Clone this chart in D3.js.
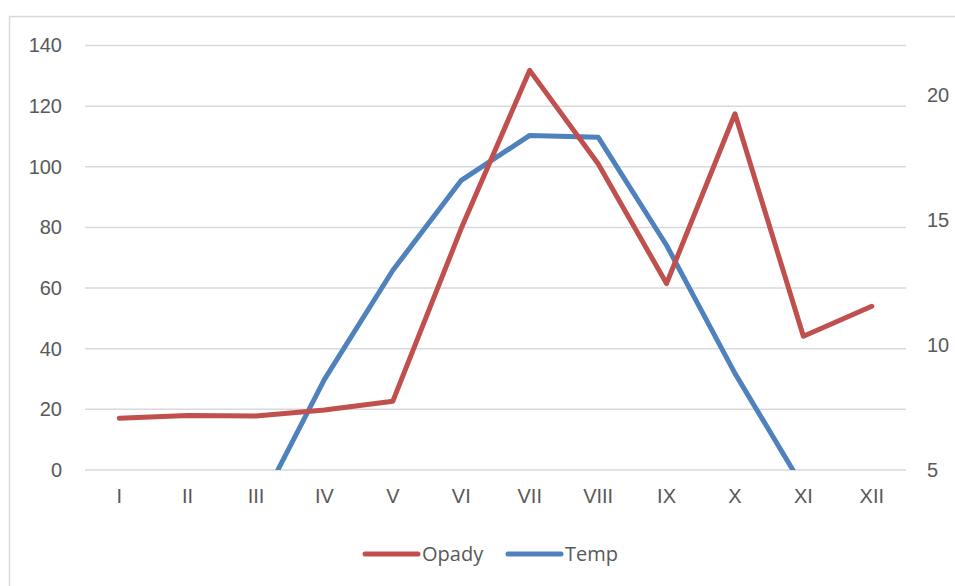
<!DOCTYPE html>
<html>
<head>
<meta charset="utf-8">
<script src="https://cdn.jsdelivr.net/npm/d3@7"></script>
<style>
  html, body { margin: 0; padding: 0; background: #fff; }
  svg { display: block; font-family: "Open Sans", "Liberation Sans", sans-serif; }
</style>
</head>
<body>
<div id="chart"></div>
<script>
var months = ['I', 'II', 'III', 'IV', 'V', 'VI', 'VII', 'VIII', 'IX', 'X', 'XI', 'XII'];
var opady = [17.1, 18.0, 17.8, 19.8, 22.7, 79.7, 131.8, 101, 61.5, 117.5, 44.1, 54];
var temp = [null, null, 3.3, 8.63, 13.0, 16.6, 18.4, 18.33, 14.0, 8.87, 4.3, null];
var leftTicks = [0, 20, 40, 60, 80, 100, 120, 140];
var rightTicks = [5, 10, 15, 20];

var W = 955, H = 586;
var plot = { left: 85, right: 906, top: 45.5, bottom: 470 };
var red = '#C0504D', blue = '#4F81BD', grid = '#D9D9D9', txt = '#595959';

var svg = d3.select('#chart').append('svg').attr('width', W).attr('height', H);

// chart frame
svg.append('rect')
  .attr('x', 9.5).attr('y', 16.5).attr('width', 980).attr('height', 620)
  .attr('fill', 'none').attr('stroke', grid).attr('stroke-width', 1.5);

var x = d3.scaleBand().domain(months).range([plot.left, plot.right]);
var yL = d3.scaleLinear().domain([0, 140]).range([plot.bottom, plot.top]);
var yR = d3.scaleLinear().domain([5, 22]).range([plot.bottom, plot.top]);

// gridlines
svg.append('g').selectAll('line').data(leftTicks).join('line')
  .attr('x1', plot.left).attr('x2', plot.right)
  .attr('y1', function (d) { return yL(d); }).attr('y2', function (d) { return yL(d); })
  .attr('stroke', grid).attr('stroke-width', 1.5);

// left axis
var axL = svg.append('g').attr('transform', 'translate(' + (plot.left - 6) + ',0)')
  .call(d3.axisLeft(yL).tickValues(leftTicks).tickSize(0).tickPadding(17));
axL.select('.domain').remove();
axL.selectAll('text').attr('fill', txt).attr('font-size', 20);

// right axis
var axR = svg.append('g').attr('transform', 'translate(' + plot.right + ',0)')
  .call(d3.axisRight(yR).tickValues(rightTicks).tickSize(0).tickPadding(21));
axR.select('.domain').remove();
axR.selectAll('text').attr('fill', txt).attr('font-size', 20);

// category axis
var axB = svg.append('g').attr('transform', 'translate(0,' + plot.bottom + ')')
  .call(d3.axisBottom(x).tickSize(0).tickPadding(19));
axB.select('.domain').remove();
axB.selectAll('text').attr('fill', txt).attr('font-size', 20);

svg.append('defs').append('clipPath').attr('id', 'plotclip')
  .append('rect').attr('x', 0).attr('y', plot.top - 10)
  .attr('width', W).attr('height', plot.bottom - plot.top + 10);

function cx(i) { return x(months[i]) + x.bandwidth() / 2; }

var lineL = d3.line()
  .x(function (d, i) { return cx(i); })
  .y(function (d) { return yL(d); });
var lineR = d3.line()
  .defined(function (d) { return d != null; })
  .x(function (d, i) { return cx(i); })
  .y(function (d) { return yR(d); });

var g = svg.append('g').attr('clip-path', 'url(#plotclip)');
g.append('path').datum(temp).attr('d', lineR)
  .attr('fill', 'none').attr('stroke', blue).attr('stroke-width', 5)
  .attr('stroke-linejoin', 'round').attr('stroke-linecap', 'round');
g.append('path').datum(opady).attr('d', lineL)
  .attr('fill', 'none').attr('stroke', red).attr('stroke-width', 5)
  .attr('stroke-linejoin', 'round').attr('stroke-linecap', 'round');

// legend
var legend = [
  { name: 'Opady', color: red, x: 365 },
  { name: 'Temp', color: blue, x: 508 }
];
var lg = svg.append('g').selectAll('g').data(legend).join('g')
  .attr('transform', function (d) { return 'translate(' + d.x + ',554)'; });
lg.append('line').attr('x1', 0).attr('x2', 53).attr('y1', 0).attr('y2', 0)
  .attr('stroke', function (d) { return d.color; }).attr('stroke-width', 5)
  .attr('stroke-linecap', 'round');
lg.append('text').attr('x', 57).attr('dy', '0.35em')
  .attr('fill', txt).attr('font-size', 20)
  .text(function (d) { return d.name; });
</script>
</body>
</html>
